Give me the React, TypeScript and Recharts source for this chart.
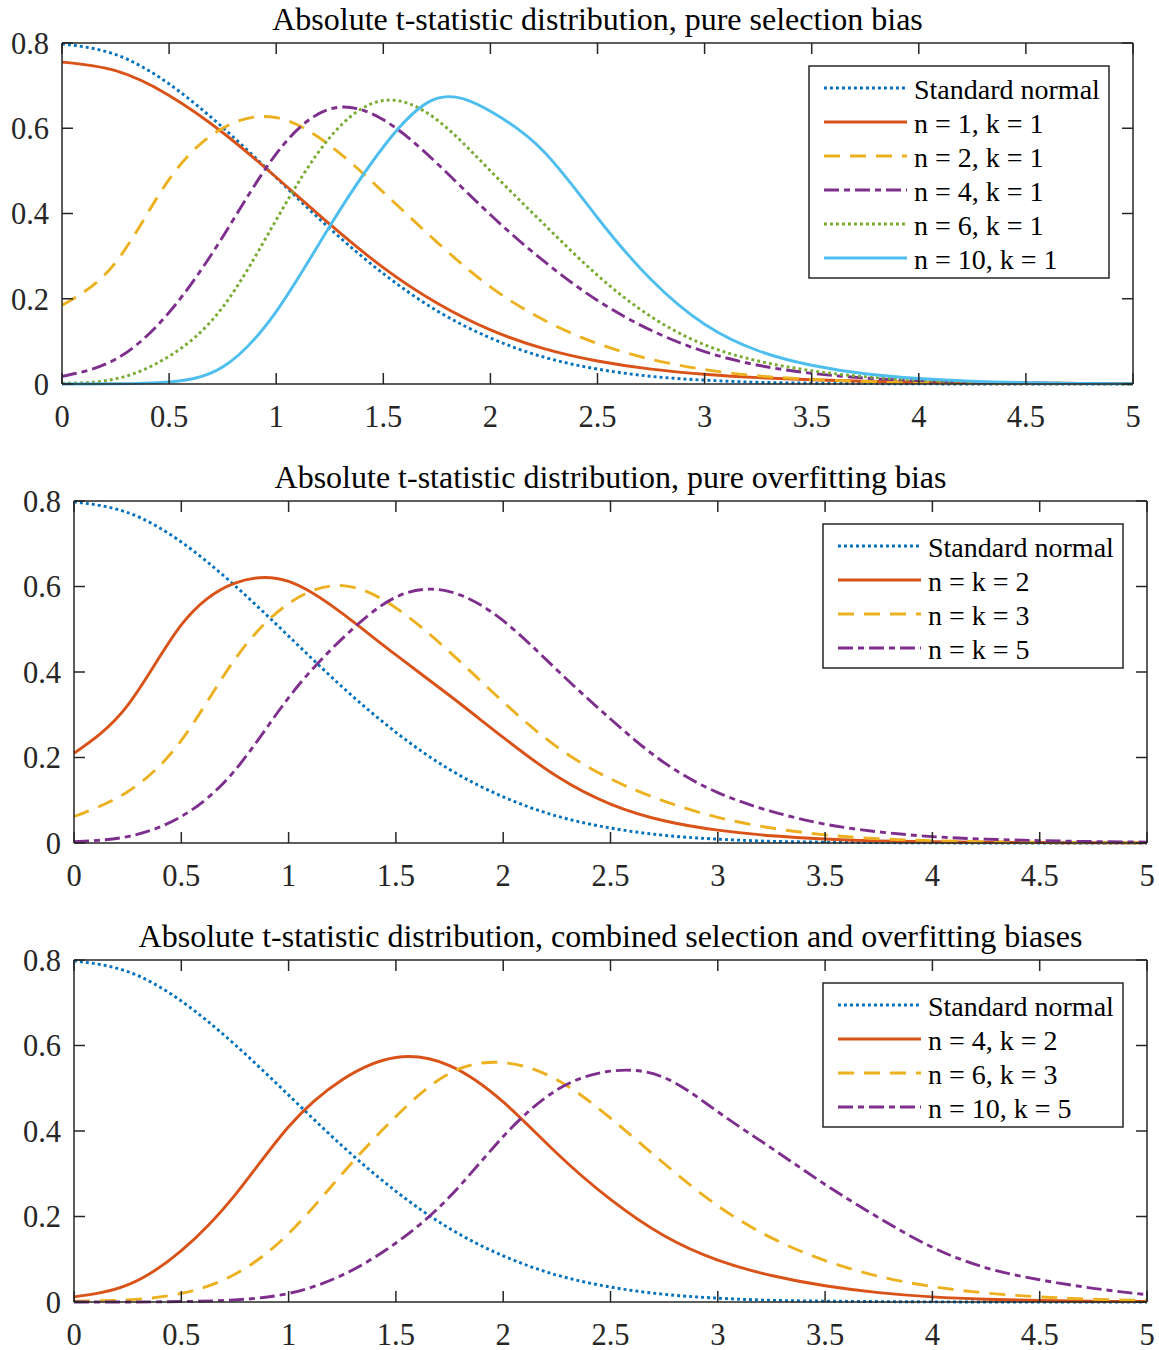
import { LineChart, Line, XAxis, YAxis } from "recharts";

const FONT = '"Liberation Serif", "Times New Roman", Times, serif';
const AXIS = "#262626";

// shared x grid (step 0.25) and ticks
const xGrid = [0, 0.25, 0.5, 0.75, 1, 1.25, 1.5, 1.75, 2, 2.25, 2.5, 2.75, 3, 3.25, 3.5, 3.75, 4, 4.25, 4.5, 4.75, 5];
const xTicks = [0, 0.5, 1, 1.5, 2, 2.5, 3, 3.5, 4, 4.5, 5];
const yTicks = [0, 0.2, 0.4, 0.6, 0.8];

// values
const standardNormal = [0.798, 0.773, 0.704, 0.602, 0.484, 0.365, 0.259, 0.172, 0.108, 0.063, 0.035, 0.018, 0.009, 0.004, 0.002, 0.001, 0.0003, 0.0001, 0, 0, 0];

// panel 1: pure selection bias
const selN1K1 = [0.755, 0.735, 0.677, 0.59, 0.485, 0.375, 0.273, 0.19, 0.127, 0.083, 0.054, 0.035, 0.023, 0.015, 0.01, 0.0065, 0.0045, 0.003, 0.002, 0.0015, 0.001];
const selN2K1 = [0.185, 0.285, 0.48, 0.6, 0.625, 0.56, 0.45, 0.333, 0.228, 0.15, 0.095, 0.058, 0.034, 0.019, 0.011, 0.006, 0.0035, 0.002, 0.001, 0.0005, 0.0003];
const selN4K1 = [0.018, 0.058, 0.168, 0.345, 0.54, 0.645, 0.62, 0.518, 0.397, 0.288, 0.196, 0.126, 0.076, 0.044, 0.025, 0.014, 0.008, 0.0045, 0.0025, 0.0013, 0.0007];
const selN6K1 = [0.002, 0.012, 0.065, 0.18, 0.385, 0.578, 0.665, 0.62, 0.5, 0.375, 0.255, 0.158, 0.092, 0.054, 0.031, 0.017, 0.009, 0.005, 0.0025, 0.0012, 0.0006];
const selN10K1 = [0, 0.0005, 0.005, 0.04, 0.17, 0.37, 0.556, 0.67, 0.64, 0.545, 0.39, 0.245, 0.14, 0.078, 0.044, 0.024, 0.013, 0.0065, 0.003, 0.0013, 0.0005];

// panel 2: pure overfitting bias
const ovfK2 = [0.21, 0.322, 0.51, 0.608, 0.612, 0.537, 0.44, 0.345, 0.247, 0.156, 0.091, 0.052, 0.03, 0.017, 0.0095, 0.005, 0.003, 0.0017, 0.001, 0.0005, 0.0003];
const ovfK3 = [0.062, 0.12, 0.24, 0.43, 0.56, 0.602, 0.55, 0.447, 0.33, 0.225, 0.15, 0.098, 0.06, 0.035, 0.019, 0.01, 0.0055, 0.003, 0.0017, 0.0009, 0.0005];
const ovfK5 = [0.003, 0.015, 0.062, 0.17, 0.34, 0.478, 0.575, 0.588, 0.52, 0.405, 0.29, 0.188, 0.118, 0.074, 0.044, 0.026, 0.015, 0.009, 0.0055, 0.0033, 0.002];

// panel 3: combined selection and overfitting
const combN4K2 = [0.012, 0.04, 0.12, 0.25, 0.41, 0.52, 0.572, 0.553, 0.468, 0.348, 0.24, 0.155, 0.098, 0.062, 0.038, 0.022, 0.012, 0.0065, 0.0035, 0.0018, 0.001];
const combN6K3 = [0.002, 0.005, 0.02, 0.065, 0.16, 0.3, 0.434, 0.535, 0.56, 0.52, 0.43, 0.324, 0.225, 0.15, 0.097, 0.06, 0.036, 0.021, 0.012, 0.0065, 0.0035];
const combN10K5 = [0, 0, 0.001, 0.005, 0.02, 0.063, 0.138, 0.246, 0.387, 0.496, 0.54, 0.525, 0.445, 0.36, 0.275, 0.197, 0.128, 0.08, 0.052, 0.032, 0.017];

const BLUE = "#0072BD";
const ORANGE = "#D95319";
const YELLOW = "#EDB120";
const PURPLE = "#7E2F8E";
const GREEN = "#77AC30";
const CYAN = "#4DBEEE";

const LINE_W = 2.9;

const DASH: any = {
  solid: undefined,
  dotted: "2.9 3.1",
  dashed: "16 10",
  dashdot: "15 5 6 5",
};

type Series = { key: string; name: string; values: number[]; color: string; style: string };

const normalSeries: Series = { key: "normal", name: "Standard normal", values: standardNormal, color: BLUE, style: "dotted" };

const panels = [
  {
    title: "Absolute t-statistic distribution, pure selection bias",
    plotTop: 43,
    plotHeight: 341,
    plotLeft: 62,
    plotRight: 1133,
    series: [
      normalSeries,
      { key: "a", name: "n = 1, k = 1", values: selN1K1, color: ORANGE, style: "solid" },
      { key: "b", name: "n = 2, k = 1", values: selN2K1, color: YELLOW, style: "dashed" },
      { key: "c", name: "n = 4, k = 1", values: selN4K1, color: PURPLE, style: "dashdot" },
      { key: "d", name: "n = 6, k = 1", values: selN6K1, color: GREEN, style: "dotted" },
      { key: "e", name: "n = 10, k = 1", values: selN10K1, color: CYAN, style: "solid" },
    ],
  },
  {
    title: "Absolute t-statistic distribution, pure overfitting bias",
    plotTop: 501,
    plotHeight: 342,
    plotLeft: 74,
    plotRight: 1147,
    series: [
      normalSeries,
      { key: "a", name: "n = k = 2", values: ovfK2, color: ORANGE, style: "solid" },
      { key: "b", name: "n = k = 3", values: ovfK3, color: YELLOW, style: "dashed" },
      { key: "c", name: "n = k = 5", values: ovfK5, color: PURPLE, style: "dashdot" },
    ],
  },
  {
    title: "Absolute t-statistic distribution, combined selection and overfitting biases",
    plotTop: 960,
    plotHeight: 342,
    plotLeft: 74,
    plotRight: 1147,
    series: [
      normalSeries,
      { key: "a", name: "n = 4, k = 2", values: combN4K2, color: ORANGE, style: "solid" },
      { key: "b", name: "n = 6, k = 3", values: combN6K3, color: YELLOW, style: "dashed" },
      { key: "c", name: "n = 10, k = 5", values: combN10K5, color: PURPLE, style: "dashdot" },
    ],
  },
];

const W = 1159;
const MARGIN_TOP = 43;
const Y_AXIS_W = 56;
const X_AXIS_H = 50;
const BOTTOM_PAD = 6;

// tick marks only, no label (used on the top and right sides of the box)
const NoLabel = () => <g />;

function Panel({ p }: { p: any }) {
  const rows = xGrid.map((x, i) => {
    const r: any = { x };
    p.series.forEach((s: Series) => {
      r[s.key] = s.values[i];
    });
    return r;
  });
  const H = MARGIN_TOP + p.plotHeight + X_AXIS_H + BOTTOM_PAD;
  const axisLine = { stroke: AXIS, strokeWidth: 1.5 };
  const tickLine = { stroke: AXIS, strokeWidth: 1.5 };
  const tickFont = { fill: AXIS, fontSize: 30.5, fontFamily: FONT };

  // top and right axes are 1px thick (an axis of size 0 is not drawn)
  return (
    <div style={{ position: "absolute", left: 0, top: p.plotTop - MARGIN_TOP }}>
      <LineChart
        width={W}
        height={H}
        data={rows}
        margin={{ top: MARGIN_TOP - 1, right: W - p.plotRight - 1, bottom: BOTTOM_PAD, left: p.plotLeft - Y_AXIS_W }}
        style={{ fontFamily: FONT }}
      >
        <XAxis
          dataKey="x"
          type="number"
          domain={[0, 5]}
          ticks={xTicks}
          interval={0}
          height={X_AXIS_H}
          tickSize={-11}
          tickMargin={32}
          axisLine={axisLine}
          tickLine={tickLine}
          tick={tickFont}
        />
        <XAxis
          xAxisId="top"
          orientation="top"
          dataKey="x"
          type="number"
          domain={[0, 5]}
          ticks={xTicks}
          interval={0}
          height={1}
          tickSize={-11}
          allowDataOverflow
          axisLine={axisLine}
          tickLine={tickLine}
          tick={NoLabel}
        />
        <YAxis
          type="number"
          domain={[0, 0.8]}
          ticks={yTicks}
          interval={0}
          width={Y_AXIS_W}
          tickSize={-11}
          tickMargin={24}
          axisLine={axisLine}
          tickLine={tickLine}
          tick={tickFont}
        />
        <YAxis
          yAxisId="right"
          orientation="right"
          type="number"
          domain={[0, 0.8]}
          ticks={yTicks}
          interval={0}
          width={1}
          tickSize={-11}
          allowDataOverflow
          axisLine={axisLine}
          tickLine={tickLine}
          tick={NoLabel}
        />
        {/* invisible series so the top and right box axes get a scale */}
        <Line
          xAxisId="top"
          yAxisId="right"
          dataKey="normal"
          stroke="none"
          dot={false}
          activeDot={false}
          legendType="none"
          isAnimationActive={false}
        />
        {p.series.map((s: Series) => (
          <Line
            key={s.key}
            type="natural"
            dataKey={s.key}
            name={s.name}
            stroke={s.color}
            strokeWidth={LINE_W}
            strokeDasharray={DASH[s.style]}
            dot={false}
            activeDot={false}
            isAnimationActive={false}
          />
        ))}
      </LineChart>
    </div>
  );
}

function LegendBox({ p }: { p: any }) {
  const w = 300;
  const rowH = 34;
  const h = p.series.length * rowH + 8;
  const x0 = p.plotRight - 24 - w;
  const y0 = p.plotTop + 23;
  return (
    <g>
      <rect x={x0} y={y0} width={w} height={h} fill="#fff" stroke={AXIS} strokeWidth={1.5} />
      {p.series.map((s: Series, i: number) => {
        const y = y0 + 22 + i * rowH;
        return (
          <g key={s.key}>
            <line x1={x0 + 15} x2={x0 + 98} y1={y} y2={y} stroke={s.color} strokeWidth={LINE_W} strokeDasharray={DASH[s.style]} />
            <text x={x0 + 105} y={y + 11} fontSize={28} fontFamily={FONT} fill="#000">
              {s.name}
            </text>
          </g>
        );
      })}
    </g>
  );
}

export default function App() {
  return (
    <div
      style={{
        position: "absolute",
        left: 0,
        top: 0,
        width: W,
        height: 1350,
        background: "#fff",
        fontFamily: FONT,
      }}
    >
      {panels.map((p, i) => (
        <Panel key={i} p={p} />
      ))}
      <svg width={W} height={1350} style={{ position: "absolute", left: 0, top: 0, pointerEvents: "none" }}>
        {panels.map((p, i) => (
          <g key={i}>
            <text
              x={(p.plotLeft + p.plotRight) / 2}
              y={p.plotTop - 13}
              textAnchor="middle"
              fontSize={32}
              fontFamily={FONT}
              fill="#000"
            >
              {p.title}
            </text>
            <LegendBox p={p} />
          </g>
        ))}
      </svg>
    </div>
  );
}
